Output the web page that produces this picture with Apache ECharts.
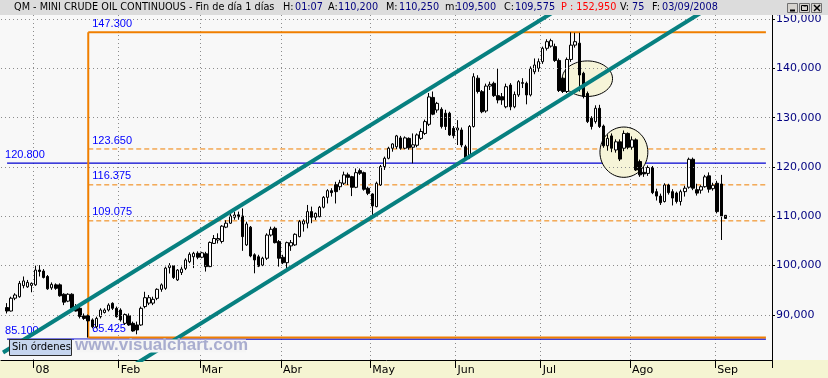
<!DOCTYPE html>
<html>
<head>
<meta charset="utf-8">
<script src="https://cdn.jsdelivr.net/npm/echarts@6/dist/echarts.min.js"></script>
<style>
	html, body { margin: 0; padding: 0; background: #f8f8f8; }
	#chart { width: 828px; height: 378px; }
</style>
</head>
<body>
<div id="chart"></div>
<script>
// 日线 K 线数据 [开, 收, 低, 高]
const ohlcDec = [
	[91.5, 90.8, 90.3, 92.4], [90.8, 93.4, 90.7, 93.7], [93.4, 94.05, 93.0, 94.4], [93.7, 96.4, 93.5, 96.9],
	[95.95, 96.9, 95.4, 97.8], [95.7, 96.6, 95.5, 97.1], [96.0, 96.4, 94.6, 96.6]
];
const ohlcJan = [
	[96.1, 99.1, 95.9, 100.0], [99.1, 98.8, 97.8, 100.1], [98.9, 97.6, 97.4, 99.3], [97.8, 95.3, 95.1, 98.1],
	[95.5, 96.2, 95.1, 96.6], [96.1, 95.4, 95.1, 96.4], [96.1, 93.9, 93.7, 96.4], [94.2, 92.6, 92.0, 94.4],
	[92.8, 94.2, 92.6, 94.4], [94.2, 91.35, 91.0, 94.4], [91.7, 90.8, 90.7, 92.2], [91.35, 89.7, 89.3, 91.7],
	[89.8, 89.3, 89.0, 90.3], [89.85, 88.8, 85.425, 90.1], [89.0, 87.6, 87.3, 89.3], [87.6, 89.3, 87.3, 89.66],
	[89.66, 91.0, 89.3, 91.35], [90.5, 91.0, 90.3, 91.35], [91.0, 92.0, 90.7, 92.36], [92.36, 91.35, 91.0, 92.56],
	[91.35, 89.66, 89.45, 91.7]
];
const ohlcFeb = [
	[91.0, 89.0, 88.65, 91.35], [88.3, 90.1, 87.97, 90.3], [89.85, 87.97, 87.8, 90.3], [88.3, 86.75, 86.6, 88.65],
	[87.97, 86.96, 86.08, 88.65], [87.97, 91.35, 87.8, 91.7], [91.7, 93.5, 91.35, 94.7], [92.4, 93.5, 92.0, 94.05],
	[92.4, 93.17, 92.0, 93.7], [93.37, 95.2, 93.0, 95.4], [95.2, 96.1, 94.7, 96.4], [95.4, 99.5, 95.1, 99.8],
	[99.6, 100.0, 98.4, 100.5], [100.0, 97.6, 97.3, 100.1], [97.1, 99.1, 96.9, 99.3], [98.6, 99.3, 98.1, 99.8],
	[99.45, 101.15, 99.1, 101.5], [100.8, 102.3, 100.5, 102.7], [101.8, 102.5, 99.5, 102.8], [102.5, 101.7, 101.3, 102.9]
];
const ohlcMar = [
	[101.7, 102.6, 101.5, 102.8], [102.4, 99.8, 98.8, 102.8], [99.8, 104.7, 99.7, 104.9], [104.5, 105.5, 104.4, 106.2],
	[105.2, 105.5, 104.5, 106.55], [104.9, 108.0, 104.5, 108.2], [107.8, 108.6, 107.6, 109.2], [108.6, 110.07, 108.45, 110.6],
	[109.8, 110.27, 109.3, 110.95], [110.3, 109.9, 109.3, 110.95], [110.07, 105.88, 103.0, 111.6], [104.2, 108.45, 104.0, 108.9],
	[107.8, 101.96, 101.7, 108.04], [102.2, 101.15, 98.45, 102.5], [101.8, 99.9, 99.7, 102.2], [100.1, 101.5, 99.9, 101.8],
	[101.5, 106.2, 101.15, 106.55], [106.2, 107.37, 105.9, 107.9], [107.57, 104.66, 104.5, 107.9], [104.87, 101.5, 99.8, 105.2]
];
const ohlcApr = [
	[101.7, 100.6, 100.3, 102.2], [100.6, 104.66, 99.46, 104.87], [104.0, 104.66, 103.0, 105.2], [104.2, 106.35, 104.0, 106.55],
	[105.88, 108.92, 105.75, 109.26], [108.45, 109.06, 106.9, 109.4], [108.6, 110.95, 107.57, 112.3], [110.95, 109.8, 108.6, 111.96],
	[109.8, 110.6, 109.26, 110.75], [109.93, 111.83, 109.8, 112.1], [111.83, 113.85, 111.6, 114.1], [113.85, 115.2, 112.6, 115.5],
	[115.2, 114.8, 114.0, 115.7], [116.4, 115.0, 112.6, 117.0], [116.0, 116.8, 115.3, 117.4], [116.7, 118.4, 116.35, 119.06],
	[118.4, 117.9, 116.35, 118.85], [118.04, 115.88, 114.1, 118.2], [115.88, 118.85, 115.7, 119.7], [119.26, 118.72, 118.4, 119.7],
	[118.85, 115.48, 115.2, 119.06], [115.68, 114.66, 114.3, 116.0]
];
const ohlcMay = [
	[114.53, 112.1, 110.07, 114.66], [111.96, 116.7, 111.83, 117.03], [116.35, 120.07, 116.15, 120.4], [120.07, 121.76, 119.4, 122.1],
	[121.76, 123.8, 121.56, 124.1], [123.8, 124.67, 123.1, 124.8], [124.1, 126.3, 123.65, 126.5], [125.9, 123.8, 123.5, 126.3],
	[123.8, 125.9, 123.6, 126.2], [125.8, 123.9, 123.5, 126.0], [124.0, 124.5, 120.74, 126.8], [124.4, 126.5, 124.0, 126.8],
	[125.8, 127.2, 125.5, 127.8], [126.8, 129.2, 126.5, 129.6], [128.65, 134.2, 128.3, 135.0], [134.1, 130.7, 130.5, 135.3],
	[131.55, 132.9, 131.0, 133.2], [131.7, 128.2, 127.8, 132.1], [130.9, 128.2, 127.5, 131.6], [130.9, 126.5, 126.3, 131.2],
	[127.83, 126.35, 125.8, 128.3]
];
const ohlcJun = [
	[127.5, 127.9, 124.45, 129.5], [127.5, 124.45, 124.0, 128.0], [124.1, 121.9, 121.4, 124.5], [121.9, 128.2, 121.6, 128.5],
	[128.2, 138.3, 128.0, 139.0], [138.0, 135.3, 134.9, 138.6], [135.27, 131.2, 130.9, 135.6], [131.35, 136.4, 131.0, 136.9],
	[136.4, 136.75, 135.6, 137.3], [136.96, 134.46, 134.2, 137.3], [134.46, 133.58, 132.9, 140.0], [134.25, 133.58, 132.6, 135.0],
	[132.2, 136.28, 131.9, 136.9], [136.6, 132.2, 131.5, 137.0], [132.2, 134.7, 131.9, 135.3], [134.6, 137.3, 134.2, 137.6],
	[137.1, 136.96, 136.0, 138.0], [136.96, 134.6, 132.7, 137.3], [134.6, 140.0, 134.3, 140.4], [139.3, 140.67, 138.8, 142.0],
	[140.0, 141.35, 139.3, 142.0]
];
const ohlcJul = [
	[141.35, 144.06, 140.9, 144.4], [144.06, 145.4, 143.6, 145.9], [144.5, 145.6, 144.2, 146.0], [144.4, 141.6, 141.3, 145.0],
	[141.6, 135.5, 135.2, 142.0], [138.0, 135.3, 135.0, 138.3], [135.3, 141.8, 135.0, 142.2], [141.8, 144.7, 141.3, 147.3],
	[144.7, 145.4, 144.2, 147.2], [145.1, 138.65, 135.3, 147.2], [139.0, 134.3, 133.9, 139.3], [134.9, 129.2, 128.9, 135.3],
	[129.9, 128.2, 127.6, 130.3], [129.2, 131.9, 128.8, 132.5], [131.9, 128.2, 127.9, 132.6], [128.3, 124.3, 123.9, 128.6],
	[124.3, 125.8, 123.3, 126.6], [126.3, 123.8, 123.0, 126.8], [123.45, 125.1, 122.9, 125.6], [125.1, 121.6, 121.2, 125.6],
	[123.8, 126.8, 123.2, 127.4], [126.8, 124.0, 123.6, 127.0]
];
const ohlcAug = [
	[124.0, 125.5, 123.5, 126.2], [125.5, 119.4, 119.2, 125.8], [121.1, 118.4, 118.0, 121.5], [118.9, 118.6, 118.0, 120.0],
	[118.7, 119.9, 118.2, 120.3], [119.9, 114.8, 114.5, 120.2], [115.0, 114.1, 113.2, 115.6], [114.1, 112.77, 112.3, 114.6],
	[113.0, 116.35, 112.8, 116.7], [116.35, 114.8, 114.4, 116.6], [115.0, 113.7, 112.2, 115.5], [114.7, 113.0, 112.6, 115.0],
	[113.0, 115.0, 112.2, 115.4], [115.0, 115.7, 114.0, 116.2], [115.9, 121.56, 115.6, 121.9], [121.56, 115.7, 115.3, 121.9],
	[115.4, 114.7, 114.2, 116.6], [115.3, 116.0, 114.6, 116.3], [116.0, 118.0, 115.8, 118.4], [118.2, 115.5, 114.8, 118.9],
	[115.6, 116.3, 115.2, 116.8]
];
const ohlcSep = [
	[116.7, 110.95, 110.6, 117.2], [116.55, 110.07, 105.2, 118.4], [110.2, 109.575, 109.5, 110.25]
];

// 交易日历：周末和以下休市日不计
const holidays = ["2007-12-25", "2008-01-01", "2008-01-21", "2008-02-18", "2008-03-21", "2008-05-26", "2008-07-04"];
const firstDay = "2007-12-19";
const categoryCount = 190;
const monthLabels = ["08", "Feb", "Mar", "Abr", "May", "Jun", "Jul", "Ago", "Sep"];
const yTicks = [90, 100, 110, 120, 130, 140, 150];

// 斐波那契回撤位（橙色）：最高 / 38.2% / 50% / 61.8% / 最低
const fibHigh = 147.3;
const fibLow = 85.425;
const fibMid = [123.65, 116.375, 109.075];
const fibMidLabels = ["123.650", "116.375", "109.075"];
// 蓝色水平线
const blueLevels = [120.8, 85.1];
const blueLabels = ["120.800", "85.100"];
// 通道线两端 [序号, 价格]
const upperChannel = [[0, 82.4], [136, 151.6]];
const lowerChannel = [[30, 78.7], [175, 152.8]];
// 标注椭圆 [中心序号, 中心价格, 横向半径(根数), 纵向半径(价格)]
const circles = [[144, 137.9, 6.2, 3.6], [153, 123.0, 5.9, 5.1]];
const lastPrice = 109.575;
const fibStart = 21;
const blueStart = 1;
const lineEnd = 188;

const buildDays = (start, n) => {
	const out = [];
	const d = new Date(start + "T00:00:00Z");
	while (out.length < n) {
		const wd = d.getUTCDay();
		const s = d.toISOString().slice(0, 10);
		if (wd !== 0 && wd !== 6 && holidays.indexOf(s) < 0) out.push(s);
		d.setUTCDate(d.getUTCDate() + 1);
	}
	return out;
};
const days = buildDays(firstDay, categoryCount);
const ohlc = [].concat(ohlcDec, ohlcJan, ohlcFeb, ohlcMar, ohlcApr, ohlcMay, ohlcJun, ohlcJul, ohlcAug, ohlcSep);
const candleData = ["-"].concat(ohlc);

// 每月第一个交易日
const isMonthStart = (i) => i > 0 && days[i].slice(5, 7) !== days[i - 1].slice(5, 7);

const FONT = "DejaVu Sans";
const ORANGE = "#f07f00";
const BLUE = "#0000ff";
const TEAL = "#078080";

// 参考线：两点折线系列，标签放在起点上方
const levelSeries = (points, lineStyle, text, dx) => ({
	type: "line",
	z: 2,
	silent: true,
	symbol: "circle",
	symbolSize: 0,
	showSymbol: true,
	lineStyle: lineStyle,
	itemStyle: { color: lineStyle.color },
	label: { show: false },
	data: [
		{
			value: points[0],
			label: text
				? {
						show: true,
						formatter: text,
						position: [dx, -14],
						color: BLUE,
						fontFamily: '"Liberation Sans", Arial',
						fontSize: 11,
				  }
				: { show: false },
		},
		{ value: points[1] },
	],
});

const dashed = { color: ORANGE, type: [5, 3], width: 1 };
const solidOrange = { color: ORANGE, type: "solid", width: 2 };
const solidBlue = { color: "#0000d0", type: "solid", width: 1.3 };

const refLines = [
	...fibMid.map((v, i) => levelSeries([[fibStart, v], [lineEnd, v]], dashed, fibMidLabels[i], 4)),
	...blueLevels.map((v, i) => levelSeries([[blueStart, v], [lineEnd, v]], solidBlue, blueLabels[i], -2)),
	levelSeries([[fibStart, fibHigh], [lineEnd, fibHigh]], solidOrange, fibHigh.toFixed(3), 4),
	levelSeries([[fibStart, fibLow], [lineEnd, fibLow]], solidOrange, fibLow.toFixed(3), 4),
	levelSeries([[fibStart, fibLow], [fibStart, fibHigh]], solidOrange, null, 0),
];

// 顶部标题栏
const headerParts = [
	["QM - MINI CRUDE OIL CONTINUOUS - Fin de día 1 días", 14, "#000"],
	["H:", 283, "#000"], ["01:07", 295, "#000080"],
	["A:", 328, "#000"], ["110,200", 338, "#000080"],
	["M:", 386, "#000"], ["110,250", 399, "#000080"],
	["m:", 445, "#000"], ["109,500", 456, "#000080"],
	["C:", 504, "#000"], ["109,575", 515, "#000080"],
	["P : 152,950", 561, "#ff0000"],
	["V:", 620, "#000"], ["75", 632, "#000080"],
	["F:", 652, "#000"], ["03/09/2008", 662, "#000080"],
];

const headerTexts = headerParts.map((p) => ({
	type: "text",
	z: 51,
	x: p[1],
	y: 7.5,
	style: { text: p[0], fill: p[2], font: '9.7px "DejaVu Sans"', align: "left", verticalAlign: "middle" },
}));

const button = (x) => ({
	type: "rect",
	z: 51,
	shape: { x: x + 0.5, y: 3.5, width: 10, height: 9 },
	style: { fill: "#d6d3ce", stroke: "#6f6f6f", lineWidth: 1 },
});

const graphics = [
	{ type: "rect", z: 50, silent: true, shape: { x: 0, y: 0, width: 828, height: 15 }, style: { fill: "#dcdcdc" } },
	{ type: "rect", z: -1, silent: true, shape: { x: 0, y: 360, width: 828, height: 18 }, style: { fill: "#f5f5d2" } },
	...headerTexts,
	button(787), button(799), button(811),
	{ type: "line", z: 52, shape: { x1: 790, y1: 10.5, x2: 795, y2: 10.5 }, style: { stroke: "#000", lineWidth: 2 } },
	{ type: "rect", z: 52, shape: { x: 801.5, y: 5.5, width: 6, height: 5 }, style: { fill: "none", stroke: "#000", lineWidth: 1 } },
	{ type: "line", z: 52, shape: { x1: 803.5, y1: 6, x2: 806.5, y2: 6 }, style: { stroke: "#000", lineWidth: 1 } },
	{ type: "line", z: 52, shape: { x1: 814, y1: 5, x2: 820, y2: 11 }, style: { stroke: "#000", lineWidth: 1.5 } },
	{ type: "line", z: 52, shape: { x1: 820, y1: 5, x2: 814, y2: 11 }, style: { stroke: "#000", lineWidth: 1.5 } },
	// 水印
	{ type: "rect", z: 100, silent: true, shape: { x: 74, y: 339.5, width: 172, height: 13 }, style: { fill: "#f5f5f5" } },
	{
		type: "text", z: 101, x: 75, y: 345.5,
		style: { text: "www.visualchart.com", fill: "#a9adcf", font: 'bold 17px "Liberation Sans", Arial, sans-serif', align: "left", verticalAlign: "middle" },
	},
	// 订单提示框
	{ type: "rect", z: 100, shape: { x: 9.5, y: 339.5, width: 62, height: 16 }, style: { fill: "#c6d5ee", stroke: "#2b2b2b", lineWidth: 1 } },
	{
		type: "text", z: 101, x: 12, y: 347.5,
		style: { text: "Sin órdenes", fill: "#000", font: '10px "DejaVu Sans"', align: "left", verticalAlign: "middle" },
	},
];

const chart = echarts.init(document.getElementById("chart"));
const option = {
	animation: false,
	backgroundColor: "#f8f8f8",
	textStyle: { fontFamily: FONT },
	grid: { left: 1, right: 56, top: 15, bottom: 18, containLabel: false },
	graphic: graphics,
	xAxis: {
		type: "category",
		data: days,
		boundaryGap: true,
		axisLine: { lineStyle: { color: "#000", width: 1 } },
		axisTick: { show: true, interval: (i) => isMonthStart(i), length: 8, lineStyle: { color: "#000" } },
		axisLabel: {
			interval: (i) => isMonthStart(i),
			formatter: (v) => monthLabels[+v.slice(5, 7) - 1],
			align: "left",
			margin: 5,
			color: "#000",
			fontFamily: FONT,
			fontSize: 11,
		},
		splitLine: { show: true, interval: (i) => isMonthStart(i), lineStyle: { color: "#8c8c8c", type: [1, 3], width: 1 } },
	},
	yAxis: {
		type: "value",
		position: "right",
		min: 80.87,
		max: 150.81,
		axisLine: { show: true, lineStyle: { color: "#000", width: 1 } },
		axisTick: { show: true, customValues: yTicks, length: 3, lineStyle: { color: "#000" } },
		axisLabel: {
			customValues: yTicks,
			formatter: (v) => v.toFixed(3).replace(".", ","),
			margin: 4,
			color: "#000080",
			fontFamily: FONT,
			fontSize: 11,
		},
		splitLine: { show: false },
	},
	series: [
		{
			// 水平网格虚线
			type: "line",
			data: [],
			z: 1,
			silent: true,
			markLine: {
				silent: true,
				symbol: "none",
				label: { show: false },
				lineStyle: { color: "#8c8c8c", type: [1, 3], width: 1 },
				data: yTicks.map((v) => ({ yAxis: v })),
			},
		},
		...refLines,
		{
			type: "custom",
			z: 3,
			silent: true,
			data: circles,
			encode: { x: 0, y: 1 },
			renderItem: (params, api) => {
				const c = api.coord([api.value(0), api.value(1)]);
				const top = api.coord([api.value(0), api.value(1) + api.value(3)]);
				const bw = api.size([1, 0])[0];
				return {
					type: "ellipse",
					shape: { cx: c[0], cy: c[1], rx: api.value(2) * bw, ry: c[1] - top[1] },
					style: { fill: "#f6f4d8", stroke: "#000", lineWidth: 1 },
				};
			},
		},
		{
			type: "candlestick",
			data: candleData,
			z: 4,
			barWidth: 3,
			itemStyle: {
				color: "#ffffff",
				color0: "#000000",
				borderColor: "#000000",
				borderColor0: "#000000",
				borderWidth: 1,
			},
			markLine: {
				silent: true,
				symbol: "none",
				lineStyle: { width: 0, opacity: 0 },
				label: {
					position: "end",
					distance: 3,
					formatter: lastPrice.toFixed(3).replace(".", ","),
					color: "#000",
					backgroundColor: "#ffffc0",
					borderColor: "#000",
					borderWidth: 1,
					padding: [1, 2, 0, 2],
					fontFamily: FONT,
					fontSize: 11,
				},
				data: [{ yAxis: lastPrice }],
			},
		},
		{
			type: "line",
			data: upperChannel,
			z: 5,
			silent: true,
			symbol: "none",
			lineStyle: { color: TEAL, width: 4 },
		},
		{
			type: "line",
			data: lowerChannel,
			z: 5,
			silent: true,
			symbol: "none",
			lineStyle: { color: TEAL, width: 4 },
		},
	],
};
chart.setOption(option);
</script>
</body>
</html>
